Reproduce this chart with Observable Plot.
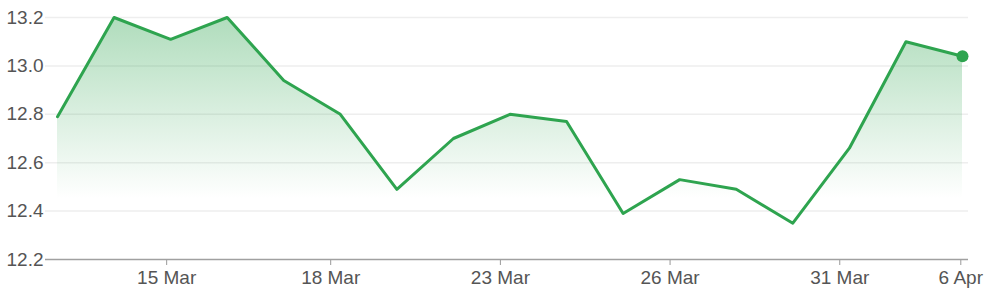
<!DOCTYPE html>
<html><head><meta charset="utf-8">
<script src="https://cdn.jsdelivr.net/npm/d3@7"></script>
<script src="https://cdn.jsdelivr.net/npm/@observablehq/plot@0.6"></script>
<style>body{margin:0;background:#fff}</style>
</head><body><div id="chart"></div>
<script>
const dates = ["11 Mar","12 Mar","15 Mar","16 Mar","17 Mar","18 Mar","19 Mar","22 Mar","23 Mar","24 Mar","25 Mar","26 Mar","29 Mar","30 Mar","31 Mar","1 Apr","6 Apr"];
const prices = [12.79,13.20,13.11,13.20,12.94,12.80,12.49,12.70,12.80,12.77,12.39,12.53,12.49,12.35,12.66,13.10,13.04];
const tickLabels = ["15 Mar","18 Mar","23 Mar","26 Mar","31 Mar","6 Apr"];
const tickIndex = [1.93,4.83,7.83,10.83,13.83,15.97];
const yTicks = [12.2,12.4,12.6,12.8,13.0,13.2];

const data = prices.map((v, i) => ({i, date: dates[i], v}));
const green = "#2ea44f";

const chart = Plot.plot({
  width: 990, height: 297,
  marginLeft: 45, marginRight: 22, marginTop: 17, marginBottom: 38,
  x: {type: "linear", domain: [0, dates.length - 1], insetLeft: 12, insetRight: 6},
  y: {domain: [yTicks[0], yTicks[yTicks.length - 1]]},
  style: {fontSize: "19px", color: "#555", background: "#fff", fontFamily: "'Liberation Sans', Arial, sans-serif"},
  marks: [
    Plot.ruleY(yTicks.slice(1), {stroke: "#eeeeee", strokeWidth: 1.5}),
    Plot.areaY(data, {x: "i", y1: () => yTicks[0], y2: "v", fill: "url(#areaGrad)"}),
    Plot.lineY(data, {x: "i", y: "v", stroke: green, strokeWidth: 3}),
    Plot.dot(data.slice(-1), {x: "i", y: "v", r: 6, fill: green}),
    Plot.axisY({ticks: yTicks, tickSize: 0, tickPadding: 2, label: null, tickFormat: d => d.toFixed(1)}),
    Plot.axisX({ticks: tickIndex, tickSize: 6, tickPadding: 5, label: null, stroke: "#999", tickFormat: d => tickLabels[tickIndex.indexOf(d)]}),
    Plot.ruleY([yTicks[0]], {stroke: "#a0a0a0", strokeWidth: 1.5})
  ]
});

const svg = d3.select(chart);
const grad = svg.insert("defs", ":first-child").append("linearGradient")
  .attr("id", "areaGrad").attr("x1", 0).attr("y1", 0).attr("x2", 0).attr("y2", 1);
grad.append("stop").attr("offset", 0).attr("stop-color", green).attr("stop-opacity", 0.38);
grad.append("stop").attr("offset", 0.75).attr("stop-color", green).attr("stop-opacity", 0);
document.getElementById("chart").appendChild(chart);
</script>
</body></html>
